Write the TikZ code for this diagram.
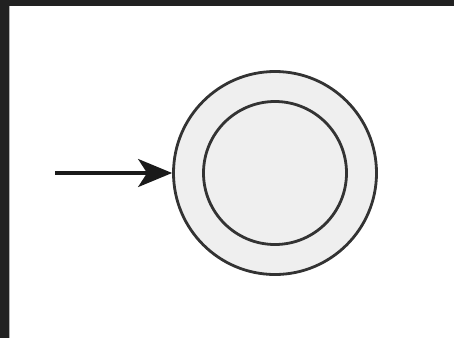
\documentclass[tikz,border=0pt]{standalone}
\usetikzlibrary{arrows.meta}
\definecolor{frame}{HTML}{212121}
\definecolor{stroke}{HTML}{333333}
\definecolor{arrowc}{HTML}{1A1A1A}
\definecolor{statefill}{HTML}{EFEFEF}
\tikzset{
  statering/.style={circle, draw=stroke, line width=2.8pt, fill=statefill, inner sep=0pt},
  startarrow/.style={draw=arrowc, line width=3.2pt, -{Stealth[length=34pt, width=28pt, inset=9pt]}}
}
\begin{document}
\begin{tikzpicture}[x=1pt, y=-1pt]
\useasboundingbox (0,0) rectangle (454,338);
\fill[frame] (0,0) rectangle (454,6);
\fill[frame] (0,0) rectangle (9,338);
\fill[gray!60] (9,6) rectangle (10,338);
\node[statering, minimum size=203pt] (outer) at (275,173) {};
\node[statering, minimum size=143pt] (inner) at (275,173) {};
\coordinate (start) at (55,173);
\draw[startarrow] (start) -- (outer.west);
\end{tikzpicture}
\end{document}
